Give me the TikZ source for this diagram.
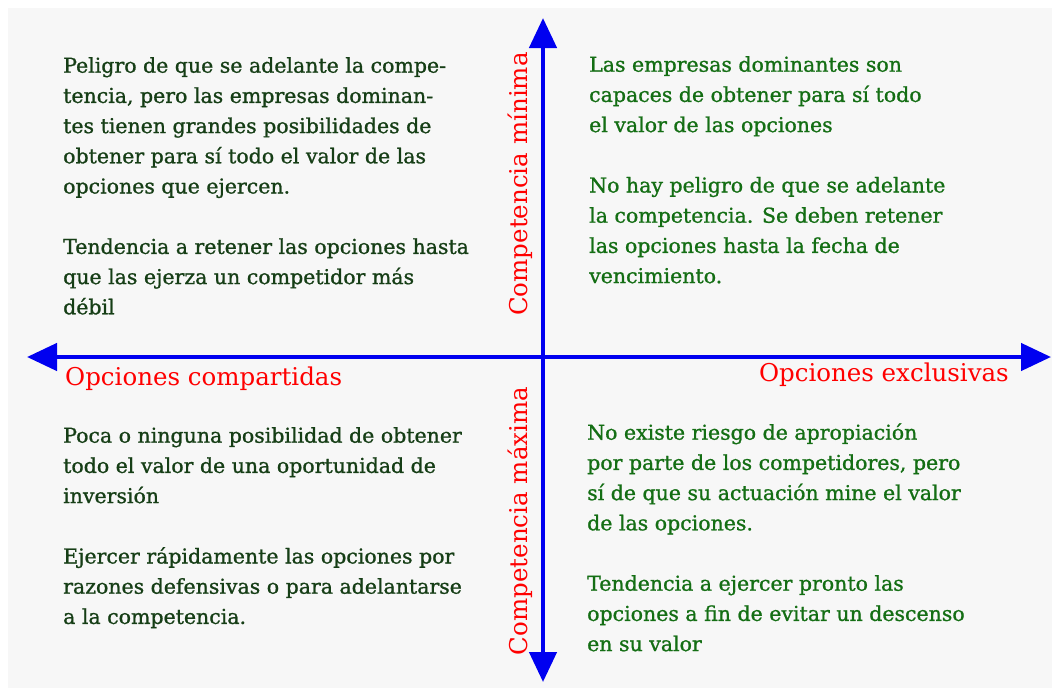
\documentclass[tikz,border=0pt]{standalone}
\usepackage{fontspec}
\setmainfont{DejaVu Serif}
\newfontfamily\bodyfont[FakeBold=1.0]{DejaVu Serif}
\usetikzlibrary{arrows.meta}
\definecolor{bggray}{RGB}{247,247,247}
\definecolor{dkgreen}{RGB}{22,62,22}
\definecolor{txgreen}{RGB}{20,110,20}
\definecolor{axisblue}{RGB}{0,0,240}
\definecolor{lblred}{RGB}{255,0,0}
\tikzset{
  axis/.style={draw=axisblue, line width=4.5pt, {Triangle[length=30pt,width=27pt]}-{Triangle[length=30pt,width=27pt]}},
  body/.style={anchor=north west, inner sep=0pt, align=left, font=\bodyfont\fontsize{20.5}{30.2}\selectfont},
  lbl/.style={inner sep=0pt, text=lblred, font=\fontsize{24.5}{28}\selectfont},
}
\newcommand{\topstrut}{\rule{0pt}{17pt}}
\begin{document}
\begin{tikzpicture}[x=1pt,y=-1pt]
\useasboundingbox (0,0) rectangle (1052,688);
\fill[white] (0,0) rectangle (1052,688);
\fill[bggray] (8,8) rectangle (1052,688);

\coordinate (L) at (27,357);
\coordinate (R) at (1051,357);
\coordinate (T) at (543,18);
\coordinate (B) at (543,682);
\draw[axis] (L) -- (R);
\draw[axis] (T) -- (B);

\node[lbl, anchor=base west] (shared) at (65,385) {Opciones compartidas};
\node[lbl, anchor=base east] (excl) at (1009,381) {Opciones exclusivas};
\node[lbl, anchor=base, rotate=90] (cmin) at (527,184) {Competencia mínima};
\node[lbl, anchor=base, rotate=90] (cmax) at (527,521) {Competencia máxima};

\node[body, text=dkgreen] (tl) at (63,55.5) {\topstrut Peligro de que se adelante la compe-\\
tencia, pero las empresas dominan-\\
tes tienen grandes posibilidades de\\
obtener para sí todo el valor de las\\
opciones que ejercen.\\[30.2pt]
Tendencia a retener las opciones hasta\\
que las ejerza un competidor más\\
débil};

\node[body, text=txgreen] (tr) at (589,54.5) {\topstrut Las empresas dominantes son\\
capaces de obtener para sí todo\\
el valor de las opciones\\[30.2pt]
No hay peligro de que se adelante\\
la competencia. Se deben retener\\
las opciones hasta la fecha de\\
vencimiento.};

\node[body, text=dkgreen] (bl) at (63,425.5) {\topstrut Poca o ninguna posibilidad de obtener\\
todo el valor de una oportunidad de\\
inversión\\[30.2pt]
Ejercer rápidamente las opciones por\\
razones defensivas o para adelantarse\\
a la competencia.};

\node[body, text=txgreen] (br) at (587,422.5) {\topstrut No existe riesgo de apropiación\\
por parte de los competidores, pero\\
sí de que su actuación mine el valor\\
de las opciones.\\[30.2pt]
Tendencia a ejercer pronto las\\
opciones a fin de evitar un descenso\\
en su valor};
\end{tikzpicture}
\end{document}
